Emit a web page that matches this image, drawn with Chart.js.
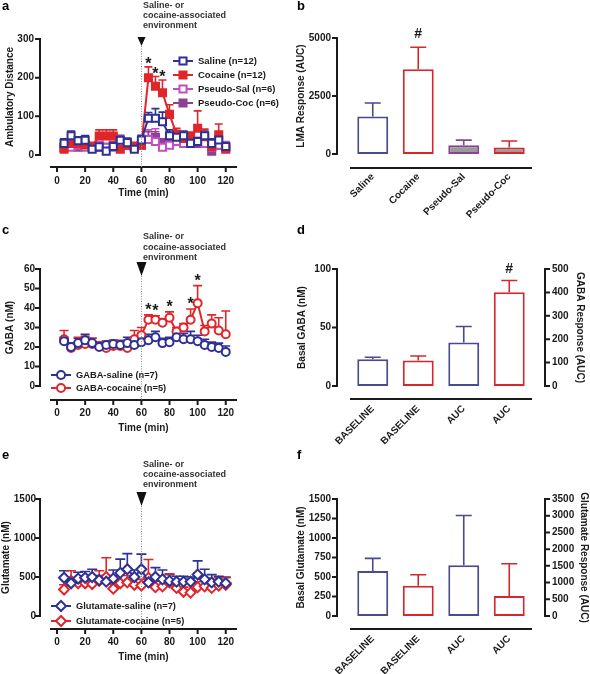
<!DOCTYPE html>
<html>
<head>
<meta charset="utf-8">
<title>LMA, GABA and glutamate responses</title>
<script src="https://cdn.jsdelivr.net/npm/chart.js@4.4.1/dist/chart.umd.min.js"></script>
<style>
  body { margin: 0; background: #fff; }
  #fig { position: relative; width: 590px; height: 674px; overflow: hidden; }
  #fig canvas { position: absolute; }
</style>
</head>
<body>
<div id="fig">
  <canvas id="chartA" width="295" height="215" style="left:0;top:0"></canvas>
  <canvas id="chartB" width="295" height="225" style="left:295px;top:0"></canvas>
  <canvas id="chartC" width="295" height="225" style="left:0;top:215px"></canvas>
  <canvas id="chartD" width="295" height="240" style="left:295px;top:215px"></canvas>
  <canvas id="chartE" width="295" height="234" style="left:0;top:440px"></canvas>
  <canvas id="chartF" width="295" height="234" style="left:295px;top:440px"></canvas>
</div>
<script>
// ---- DATA ----
const timeMin = [5, 10, 15, 20, 25, 30, 35, 40, 45, 50, 55, 60, 65, 70, 75, 80, 85, 90, 95, 100, 105, 110, 115, 120];
const timeTicks = [0, 20, 40, 60, 80, 100, 120];
const cueTime = 60;
const envText = ['Saline- or', 'cocaine-associated', 'environment'];

// (a) ambulatory distance
const lmaSaline = [30, 50, 37, 38, 15, 21, 10, 22, 38, 32, 15, 39, 95, 95, 86, 50, 46, 50, 30, 35, 50, 30, 39, 22];
const lmaSalineErr = [12, 12, 10, 12, 8, 10, 8, 10, 12, 12, 10, 12, 15, 25, 25, 15, 15, 12, 10, 10, 12, 12, 12, 10];
const lmaCocaine = [15, 30, 30, 26, 23, 49, 49, 49, 15, 25, 23, 26, 200, 178, 161, 105, 54, 43, 49, 69, 47, 22, 52, 15];
const lmaCocaineErr = [8, 10, 10, 8, 8, 16, 16, 16, 8, 8, 8, 10, 28, 25, 33, 25, 15, 10, 10, 45, 20, 12, 28, 10];
const lmaPseudoSal = [20, 20, 25, 20, 20, 25, 20, 20, 30, 25, 20, 25, 40, 35, 20, 25, 35, 30, 30, 35, 30, 20, 25, 20];
const lmaPseudoSalErr = [10, 10, 10, 10, 8, 8, 8, 8, 20, 15, 10, 10, 25, 33, 15, 10, 10, 10, 10, 10, 10, 10, 12, 15];
const lmaPseudoCoc = [20, 25, 20, 25, 20, 20, 20, 25, 35, 25, 20, 25, 40, 45, 30, 30, 35, 35, 35, 30, 30, 10, 25, 20];
const lmaPseudoCocErr = [10, 10, 10, 10, 8, 8, 8, 8, 15, 12, 10, 10, 20, 15, 12, 10, 10, 10, 10, 10, 10, 10, 10, 10];
const lmaTicks = [0, 100, 200, 300];
const lmaStarTimes = [65, 70, 75];

// (b) LMA response AUC
const lmaGroups = ['Saline', 'Cocaine', 'Pseudo-Sal', 'Pseudo-Coc'];
const lmaAuc = [1620, 3650, 380, 280];
const lmaAucErr = [580, 950, 220, 280];
const lmaAucTicks = [0, 2500, 5000];

// (c) GABA time course
const gabaSaline = [23, 20, 22, 23.5, 22, 20, 21, 21.5, 21, 22, 21, 22.5, 23.5, 25, 22, 22.5, 25, 24, 24, 23, 21, 20, 19.5, 17.5];
const gabaSalineErr = [2, 2, 2.5, 3, 2.5, 2, 2, 2, 2, 3, 2.5, 3, 3, 3, 2.5, 2.5, 3, 3, 4, 3, 3, 2.5, 2.5, 3];
const gabaCocaine = [24, 19.5, 21, 21.5, 21.5, 20.5, 19.5, 20.5, 20.5, 19.5, 24, 26, 34, 34, 32.5, 35, 28, 30, 34, 42.5, 28, 32, 28.5, 26.5];
const gabaCocaineErr = [4.5, 2, 4, 4, 3, 2, 3, 3, 3, 3.5, 4.5, 4, 2.5, 2, 2, 3, 2, 2, 5.5, 9, 3, 4.5, 6.5, 12];
const gabaTicks = [0, 10, 20, 30, 40, 50, 60];
const gabaStarTimes = [65, 70, 80, 95, 100];

// (d) basal GABA and GABA response
const barLabels = ['BASELINE', 'BASELINE', 'AUC', 'AUC'];
const gabaBasal = [22.9, 21.7, null, null];
const gabaBasalErr = [1.7, 4, null, null];
const gabaAuc = [null, null, 186, 401];
const gabaAucErr = [null, null, 68, 50];
const gabaBasalTicks = [0, 50, 100];
const gabaAucTicks = [0, 100, 200, 300, 400, 500];

// (e) glutamate time course
const gluSaline = [490, 420, 480, 490, 500, 460, 440, 480, 553, 600, 500, 600, 430, 500, 470, 450, 440, 440, 440, 531, 470, 430, 440, 420];
const gluSalineErr = [90, 60, 80, 80, 100, 60, 50, 110, 176, 200, 90, 193, 70, 120, 120, 80, 70, 70, 60, 176, 130, 100, 70, 80];
const gluCocaine = [340, 450, 420, 420, 410, 450, 501, 350, 420, 430, 400, 390, 489, 370, 380, 430, 360, 310, 300, 370, 380, 360, 390, 400];
const gluCocaineErr = [60, 130, 70, 60, 90, 130, 245, 60, 130, 90, 100, 80, 235, 80, 70, 110, 100, 60, 150, 70, 110, 80, 100, 90];
const gluTicks = [0, 500, 1000, 1500];

// (f) basal glutamate and glutamate response
const gluBasal = [576, 387, null, null];
const gluBasalErr = [163, 142, null, null];
const gluAuc = [null, null, 1515, 602];
const gluAucErr = [null, null, 1490, 962];
const gluBasalTicks = [0, 250, 500, 750, 1000, 1250, 1500];
const gluAucTicks = [0, 500, 1000, 1500, 2000, 2500, 3000, 3500];

// ---- STYLE ----
const FONT = "'Liberation Sans', Arial, sans-serif";
const INK = '#1a1a1a';
const BLUE = '#2e3192';
const RED = '#e0262a';
const MAGENTA = '#c04fc0';
const PURPLE = '#8e3f96';
const BAR_BLUE = '#4a4a90';
const BAR_RED = '#d4282e';
const GREY = '#9a9a9a';

Chart.defaults.font.family = FONT;
Chart.defaults.font.size = 10;
Chart.defaults.font.weight = 'bold';
Chart.defaults.color = INK;
Chart.defaults.animation = false;
Chart.defaults.responsive = false;
Chart.defaults.plugins.legend.display = false;
Chart.defaults.plugins.tooltip.enabled = false;

// per-panel extras drawn by the plugin below (offset axes, error bars, marks...)
const panelCfg = {
  chartA: { letter: 'a', letterY: 10, yOff: 10, xOff: 12, xTicks: true, cap: 8,
    env: { textX: 143, textY: 6, lineH: 10, triTop: 37, triH: 9, triW: 8, lineEnd: 13 },
    legend: { x: 173, y: 61, dy: 14, len: 20, font: 9.5 },
    marks: { ds: 1, times: lmaStarTimes, text: '*', size: 16, gap: -2 } },
  chartB: { letter: 'b', letterY: 10, yOff: 13, xOff: 14, cap: 16,
    marks: { ds: 0, idx: [1], text: '#', size: 14, gap: 9 } },
  chartC: { letter: 'c', letterY: 19, yOff: 10, xOff: 14, xTicks: true, cap: 9,
    env: { textX: 143, textY: 22, lineH: 10.5, triTop: 47, triH: 14, triW: 10, lineEnd: 14 },
    legend: { x: 51, y: 160, dy: 13, len: 20, font: 9.3 },
    marks: { ds: 1, times: gabaStarTimes, text: '*', size: 16, gap: 0 } },
  chartD: { letter: 'd', letterY: 19, yOff: 13, xOff: 13, y1Off: 13, cap: 16,
    marks: { ds: 1, idx: [3], text: '#', size: 14, gap: 7 } },
  chartE: { letter: 'e', letterY: 19, yOff: 10, xOff: 13, xTicks: true, cap: 10,
    env: { textX: 143, textY: 25, lineH: 10, triTop: 52, triH: 14, triW: 10, lineEnd: 13 },
    legend: { x: 51, y: 166, dy: 15, len: 20, font: 9.3 } },
  chartF: { letter: 'f', letterY: 19, yOff: 13, xOff: 13, y1Off: 13, cap: 16 }
};

function valueAt(ds, i) {
  const d = ds.data[i];
  return d !== null && typeof d === 'object' ? d.y : d;
}

function colorAt(c, i) {
  return Array.isArray(c) ? c[i] : c;
}

function drawErrorBars(chart, cfg) {
  const ctx = chart.ctx;
  chart.data.datasets.forEach((ds, di) => {
    if (!ds.errors) return;
    const meta = chart.getDatasetMeta(di);
    const ys = chart.scales[meta.yAxisID];
    ds.data.forEach((d, i) => {
      const v = valueAt(ds, i), e = ds.errors[i];
      if (v == null || e == null) return;
      const x = meta.data[i].x;
      const y0 = ys.getPixelForValue(v);
      const y1 = ys.getPixelForValue(v + e);
      ctx.save();
      ctx.strokeStyle = colorAt(ds.borderColor, i);
      ctx.lineWidth = 1.6;
      ctx.beginPath();
      ctx.moveTo(x, y0);
      ctx.lineTo(x, y1);
      ctx.moveTo(x - cfg.cap / 2, y1);
      ctx.lineTo(x + cfg.cap / 2, y1);
      ctx.stroke();
      ctx.restore();
    });
  });
}

function drawAxes(chart, cfg) {
  const ctx = chart.ctx, a = chart.chartArea;
  ctx.save();
  ctx.strokeStyle = INK;
  ctx.lineWidth = 2;
  ctx.beginPath();
  const ly = chart.scales.y;
  const lx = a.left - cfg.yOff;
  ctx.moveTo(lx, a.top - 1);
  ctx.lineTo(lx, a.bottom + 1);
  ly.ticks.forEach(t => {
    const p = ly.getPixelForValue(t.value);
    ctx.moveTo(lx - 5, p);
    ctx.lineTo(lx, p);
  });
  if (chart.scales.y1) {
    const ry = chart.scales.y1;
    const rx = a.right + cfg.y1Off;
    ctx.moveTo(rx, a.top - 1);
    ctx.lineTo(rx, a.bottom + 1);
    ry.ticks.forEach(t => {
      const p = ry.getPixelForValue(t.value);
      ctx.moveTo(rx, p);
      ctx.lineTo(rx + 5, p);
    });
  }
  const by = a.bottom + cfg.xOff;
  ctx.moveTo(a.left, by);
  ctx.lineTo(a.right, by);
  if (cfg.xTicks) {
    chart.scales.x.ticks.forEach(t => {
      const p = chart.scales.x.getPixelForValue(t.value);
      ctx.moveTo(p, by);
      ctx.lineTo(p, by + 5);
    });
  }
  ctx.stroke();
  ctx.restore();
}

function drawEnv(chart, e) {
  const ctx = chart.ctx, a = chart.chartArea;
  const x = Math.round(chart.scales.x.getPixelForValue(cueTime)) + 0.5;
  ctx.save();
  ctx.strokeStyle = '#8a8a8a';
  ctx.lineWidth = 1;
  ctx.setLineDash([1, 1.5]);
  ctx.beginPath();
  ctx.moveTo(x, e.triTop + e.triH);
  ctx.lineTo(x, a.bottom + e.lineEnd);
  ctx.stroke();
  ctx.setLineDash([]);
  ctx.fillStyle = '#111';
  ctx.beginPath();
  ctx.moveTo(x - e.triW / 2, e.triTop);
  ctx.lineTo(x + e.triW / 2, e.triTop);
  ctx.lineTo(x, e.triTop + e.triH);
  ctx.closePath();
  ctx.fill();
  ctx.font = 'bold 9px ' + FONT;
  ctx.fillStyle = '#333';
  ctx.textAlign = 'left';
  ctx.textBaseline = 'middle';
  envText.forEach((s, i) => ctx.fillText(s, e.textX, e.textY + i * e.lineH));
  ctx.restore();
}

function drawLegend(chart, L) {
  const ctx = chart.ctx;
  ctx.save();
  chart.data.datasets.forEach((ds, i) => {
    const y = L.y + i * L.dy;
    ctx.strokeStyle = ds.borderColor;
    ctx.lineWidth = ds.borderWidth;
    ctx.beginPath();
    ctx.moveTo(L.x, y);
    ctx.lineTo(L.x + L.len, y);
    ctx.stroke();
    ctx.fillStyle = ds.pointBackgroundColor;
    ctx.lineWidth = ds.pointBorderWidth;
    Chart.helpers.drawPoint(ctx, { pointStyle: ds.pointStyle, radius: ds.pointRadius, rotation: 0, borderWidth: ds.pointBorderWidth }, L.x + L.len / 2, y);
    ctx.fillStyle = INK;
    ctx.font = 'bold ' + L.font + 'px ' + FONT;
    ctx.textAlign = 'left';
    ctx.textBaseline = 'middle';
    ctx.fillText(ds.label, L.x + L.len + 5, y + 0.5);
  });
  ctx.restore();
}

function drawMarks(chart, m) {
  const ctx = chart.ctx;
  const ds = chart.data.datasets[m.ds];
  const meta = chart.getDatasetMeta(m.ds);
  const ys = chart.scales[meta.yAxisID];
  const idx = m.idx || m.times.map(t => timeMin.indexOf(t));
  ctx.save();
  ctx.font = 'bold ' + m.size + 'px ' + FONT;
  ctx.fillStyle = INK;
  ctx.textAlign = 'center';
  ctx.textBaseline = 'alphabetic';
  idx.forEach(i => {
    const top = ys.getPixelForValue(valueAt(ds, i) + (ds.errors[i] || 0));
    ctx.fillText(m.text, meta.data[i].x, top - m.gap);
  });
  ctx.restore();
}

const gpPlugin = {
  id: 'gp',
  beforeDatasetsDraw(chart) {
    drawErrorBars(chart, panelCfg[chart.canvas.id]);
  },
  afterDraw(chart) {
    const cfg = panelCfg[chart.canvas.id];
    const ctx = chart.ctx;
    drawAxes(chart, cfg);
    if (cfg.env) drawEnv(chart, cfg.env);
    if (cfg.legend) drawLegend(chart, cfg.legend);
    if (cfg.marks) drawMarks(chart, cfg.marks);
    ctx.save();
    ctx.font = 'bold 13px ' + FONT;
    ctx.fillStyle = '#000';
    ctx.textBaseline = 'alphabetic';
    ctx.fillText(cfg.letter, 2, cfg.letterY);
    ctx.restore();
  }
};
Chart.register(gpPlugin);

// ---- HELPERS ----
function fixedTicks(vals) {
  return scale => { scale.ticks = vals.map(v => ({ value: v })); };
}

const noGrid = { display: false, drawTicks: false };

function valueAxis(pos, min, max, ticks, title, width, pad, titlePad) {
  return {
    type: 'linear', position: pos, min: min, max: max,
    grid: noGrid, border: { display: false },
    afterBuildTicks: fixedTicks(ticks),
    ticks: { padding: pad, callback: v => String(v) },
    title: { display: true, text: title, padding: { top: titlePad, bottom: 0 } },
    afterFit: s => { s.width = width; }
  };
}

function timeAxis(height, pad, titlePad) {
  return {
    type: 'linear', position: 'bottom', min: -5, max: 128,
    grid: noGrid, border: { display: false },
    afterBuildTicks: fixedTicks(timeTicks),
    ticks: { padding: pad, maxRotation: 0, callback: v => String(v) },
    title: { display: true, text: 'Time (min)', padding: { top: 0, bottom: titlePad } },
    afterFit: s => { s.height = height; }
  };
}

function groupAxis(height, pad) {
  return {
    type: 'category', position: 'bottom',
    grid: noGrid, border: { display: false },
    ticks: { padding: pad, minRotation: 45, maxRotation: 45, autoSkip: false },
    afterFit: s => { s.height = height; }
  };
}

function series(label, vals, errs, color, style, radius, filled) {
  return {
    label: label,
    data: timeMin.map((t, i) => ({ x: t, y: vals[i] })),
    errors: errs,
    borderColor: color,
    borderWidth: 2,
    pointStyle: style,
    pointRadius: radius,
    pointBorderWidth: 2,
    pointBorderColor: color,
    pointBackgroundColor: filled ? color : '#fff',
    tension: 0,
    clip: false
  };
}

function bars(vals, errs, border, fill, axis) {
  return {
    data: vals, errors: errs,
    borderColor: border, backgroundColor: fill,
    borderWidth: 2, borderSkipped: false,
    barPercentage: 0.68, categoryPercentage: 1,
    grouped: false, yAxisID: axis
  };
}

// ---- (a) ambulatory distance ----
new Chart(document.getElementById('chartA'), {
  type: 'line',
  data: {
    datasets: [
      series('Saline (n=12)', lmaSaline, lmaSalineErr, BLUE, 'rect', 5, false),
      series('Cocaine (n=12)', lmaCocaine, lmaCocaineErr, RED, 'rect', 5, true),
      series('Pseudo-Sal (n=6)', lmaPseudoSal, lmaPseudoSalErr, MAGENTA, 'rect', 5, false),
      series('Pseudo-Coc (n=6)', lmaPseudoCoc, lmaPseudoCocErr, PURPLE, 'rect', 5, true)
    ]
  },
  options: {
    layout: { padding: { left: 0, top: 39, right: 58, bottom: 0 } },
    scales: {
      x: timeAxis(60, 20, 16),
      y: valueAxis('left', 0, 300, lmaTicks, 'Ambulatory Distance', 50, 16, 4)
    }
  }
});

// ---- (b) LMA response ----
new Chart(document.getElementById('chartB'), {
  type: 'bar',
  data: {
    labels: lmaGroups,
    datasets: [bars(lmaAuc, lmaAucErr, [BAR_BLUE, BAR_RED, PURPLE, BAR_RED], ['#fff', '#fff', GREY, GREY], 'y')]
  },
  options: {
    layout: { padding: { left: 0, top: 38, right: 58, bottom: 0 } },
    scales: {
      x: groupAxis(71, 17),
      y: valueAxis('left', 0, 5000, lmaAucTicks, 'LMA Response (AUC)', 55, 19, 0)
    }
  }
});

// ---- (c) GABA ----
new Chart(document.getElementById('chartC'), {
  type: 'line',
  data: {
    datasets: [
      series('GABA-saline (n=7)', gabaSaline, gabaSalineErr, BLUE, 'circle', 4, false),
      series('GABA-cocaine (n=5)', gabaCocaine, gabaCocaineErr, RED, 'circle', 4, false)
    ]
  },
  options: {
    layout: { padding: { left: 0, top: 54, right: 58, bottom: 0 } },
    scales: {
      x: timeAxis(54, 21, 6),
      y: valueAxis('left', 0, 60, gabaTicks, 'GABA (nM)', 50, 15, 4)
    }
  }
});

// ---- (d) basal GABA / GABA response ----
new Chart(document.getElementById('chartD'), {
  type: 'bar',
  data: {
    labels: barLabels,
    datasets: [
      bars(gabaBasal, gabaBasalErr, [BAR_BLUE, BAR_RED, BAR_BLUE, BAR_RED], '#fff', 'y'),
      bars(gabaAuc, gabaAucErr, [BAR_BLUE, BAR_RED, BAR_BLUE, BAR_RED], '#fff', 'y1')
    ]
  },
  options: {
    layout: { padding: { left: 0, top: 54, right: 0, bottom: 0 } },
    scales: {
      x: groupAxis(69, 17),
      y: valueAxis('left', 0, 100, gabaBasalTicks, 'Basal GABA (nM)', 55, 19, 1),
      y1: valueAxis('right', 0, 500, gabaAucTicks, 'GABA Response (AUC)', 58, 20, 4)
    }
  }
});

// ---- (e) glutamate ----
new Chart(document.getElementById('chartE'), {
  type: 'line',
  data: {
    datasets: [
      series('Glutamate-saline (n=7)', gluSaline, gluSalineErr, BLUE, 'rectRot', 5, false),
      series('Glutamate-cocaine (n=5)', gluCocaine, gluCocaineErr, RED, 'rectRot', 5, false)
    ]
  },
  options: {
    layout: { padding: { left: 0, top: 59, right: 58, bottom: 0 } },
    scales: {
      x: timeAxis(58, 20, 11),
      y: valueAxis('left', 0, 1500, gluTicks, 'Glutamate (nM)', 50, 14, 0)
    }
  }
});

// ---- (f) basal glutamate / glutamate response ----
new Chart(document.getElementById('chartF'), {
  type: 'bar',
  data: {
    labels: barLabels,
    datasets: [
      bars(gluBasal, gluBasalErr, [BAR_BLUE, BAR_RED, BAR_BLUE, BAR_RED], '#fff', 'y'),
      bars(gluAuc, gluAucErr, [BAR_BLUE, BAR_RED, BAR_BLUE, BAR_RED], '#fff', 'y1')
    ]
  },
  options: {
    layout: { padding: { left: 0, top: 59, right: 0, bottom: 0 } },
    scales: {
      x: groupAxis(58, 17),
      y: valueAxis('left', 0, 1500, gluBasalTicks, 'Basal Glutamate (nM)', 55, 19, 0),
      y1: valueAxis('right', 0, 3500, gluAucTicks, 'Glutamate Response (AUC)', 58, 20, 0)
    }
  }
});
</script>
</body>
</html>
